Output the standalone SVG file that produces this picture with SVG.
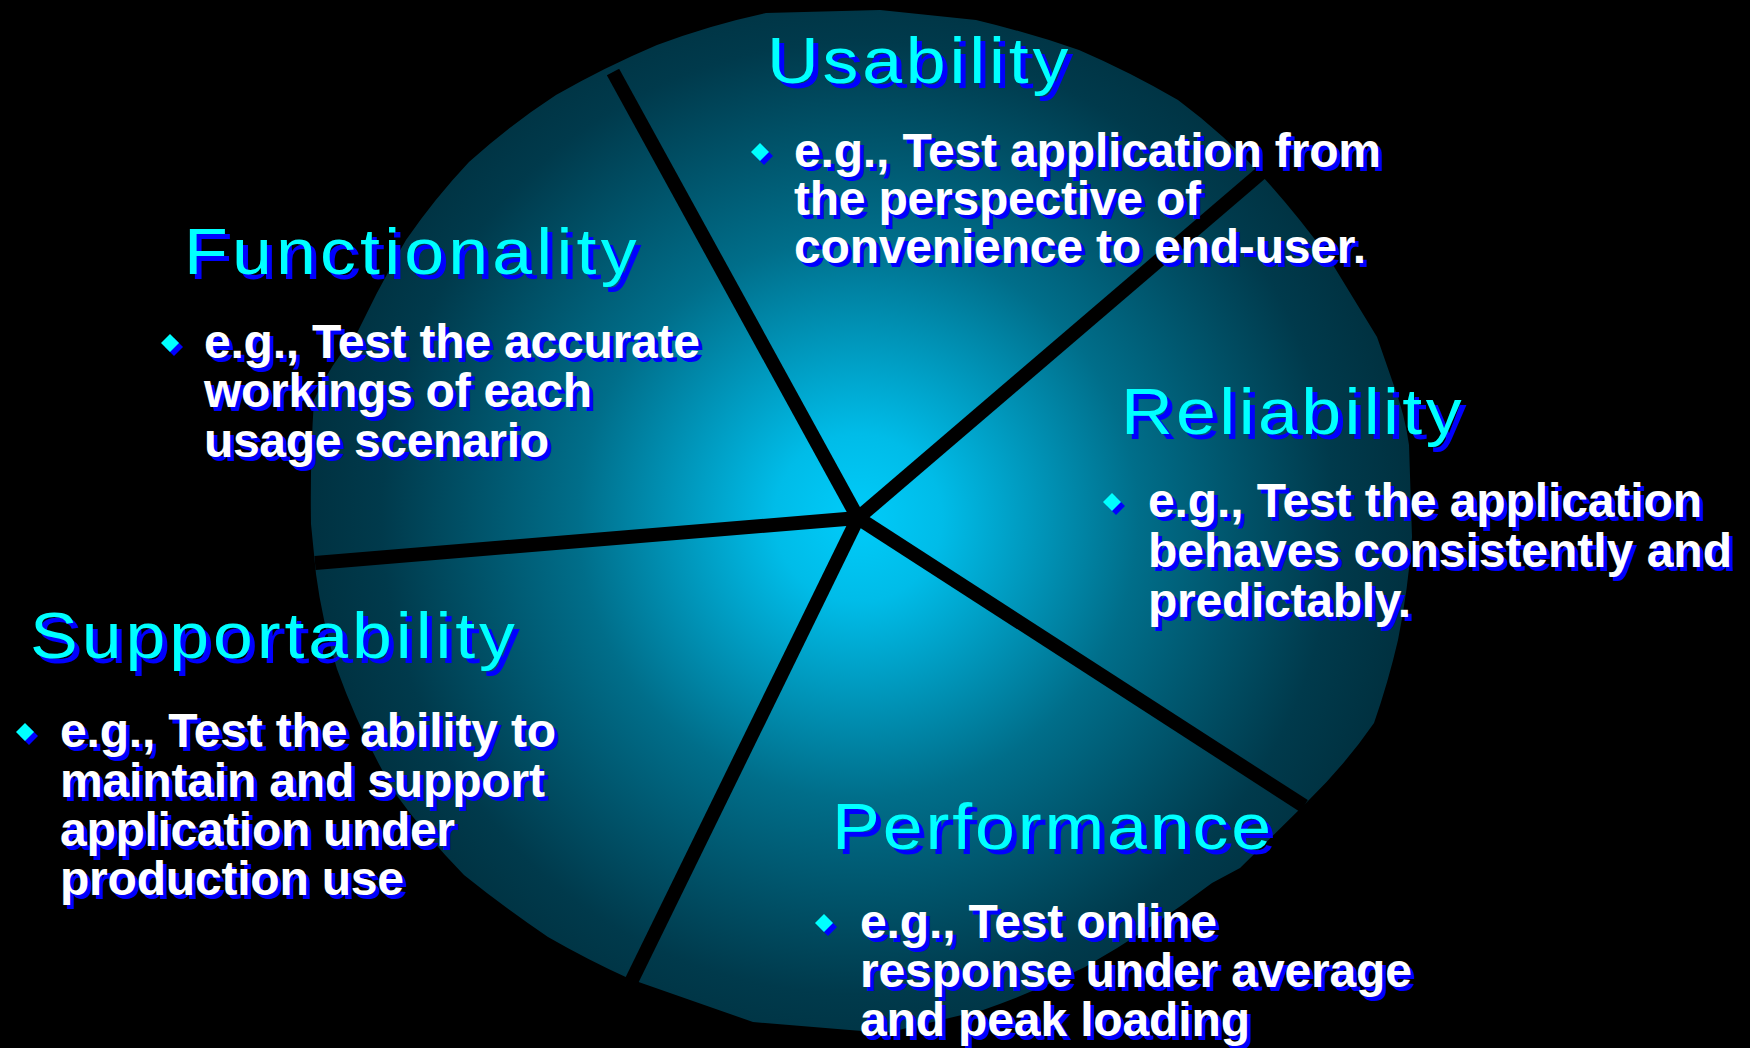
<svg xmlns="http://www.w3.org/2000/svg" width="1750" height="1048" viewBox="0 0 1750 1048">
<defs>
<radialGradient id="pieGrad" gradientUnits="userSpaceOnUse" cx="858" cy="518" r="560">
<stop offset="0" stop-color="#00CCFA"/>
<stop offset="0.15" stop-color="#00BCE8"/>
<stop offset="0.5" stop-color="#006E8A"/>
<stop offset="0.85" stop-color="#003A4C"/>
<stop offset="1" stop-color="#00303F"/>
</radialGradient>
<path id="dia" d="M0,-9 L9,0 L0,9 L-9,0 Z"/>
<style>
.title { font-family: "Liberation Sans", Arial, sans-serif; font-size: 64px; }
.body { font-family: "Liberation Sans", Arial, sans-serif; font-size: 48px; font-weight: bold; }
.cy { fill: #00FFFF; }
.wh { fill: #FFFFFF; }
.sh { fill: #0000FF; }
.spoke { stroke: #000000; stroke-width: 14; stroke-linecap: butt; fill: none; }
</style>
</defs>
<rect x="0" y="0" width="1750" height="1048" fill="#000000"/>

<g id="pie">
<path fill="url(#pieGrad)" d="M766,13 L880,10 L976,20 Q1030,33 1079,50 Q1130,72 1178,100 Q1225,135 1263,177 Q1300,218 1330,260 L1377,337 L1393,383 Q1405,415 1409,445 L1412,537 Q1408,590 1398,640 Q1388,683 1374,723 Q1345,765 1307,802 L1240,868 L1212,883 Q1150,930 1085,967 Q1035,992 983,1010 L886,1033 L753,1022 L630,979 Q588,960 548,937 Q505,908 464,875 Q425,835 395,793 Q360,733 337,669 Q322,620 316,574 L311,524 Q310,460 314,400 Q330,365 357,333 Q380,285 406,240 Q435,198 469,162 Q510,125 556,95 Q605,67 657,45 Q710,25 766,13 Z"/>
</g>

<g id="connectors">
<line class="spoke" x1="858" y1="518" x2="613" y2="72"/>
<line class="spoke" x1="858" y1="518" x2="1261" y2="173"/>
<line class="spoke" x1="858" y1="518" x2="1304" y2="806"/>
<line class="spoke" x1="858" y1="518" x2="631" y2="982"/>
<line class="spoke" x1="858" y1="518" x2="315" y2="563"/>
</g>

<g id="usability">
<text class="title sh" transform="translate(772,88) scale(1.12,1)" textLength="269" lengthAdjust="spacing">Usability</text>
<text class="title cy" transform="translate(767,83) scale(1.12,1)" textLength="269" lengthAdjust="spacing">Usability</text>
<use href="#dia" class="sh" x="764" y="156"/>
<use href="#dia" class="cy" x="760" y="152"/>
<text class="body sh" x="798" y="171" textLength="587" lengthAdjust="spacing">e.g., Test application from</text>
<text class="body wh" x="794" y="167" textLength="587" lengthAdjust="spacing">e.g., Test application from</text>
<text class="body sh" x="798" y="219" textLength="407" lengthAdjust="spacing">the perspective of</text>
<text class="body wh" x="794" y="215" textLength="407" lengthAdjust="spacing">the perspective of</text>
<text class="body sh" x="798" y="267" textLength="572" lengthAdjust="spacing">convenience to end-user.</text>
<text class="body wh" x="794" y="263" textLength="572" lengthAdjust="spacing">convenience to end-user.</text>
</g>

<g id="functionality">
<text class="title sh" transform="translate(189,279) scale(1.12,1)" textLength="404" lengthAdjust="spacing">Functionality</text>
<text class="title cy" transform="translate(184,274) scale(1.12,1)" textLength="404" lengthAdjust="spacing">Functionality</text>
<use href="#dia" class="sh" x="174" y="347"/>
<use href="#dia" class="cy" x="170" y="343"/>
<text class="body sh" x="208" y="362" textLength="496" lengthAdjust="spacing">e.g., Test the accurate</text>
<text class="body wh" x="204" y="358" textLength="496" lengthAdjust="spacing">e.g., Test the accurate</text>
<text class="body sh" x="208" y="411" textLength="388" lengthAdjust="spacing">workings of each</text>
<text class="body wh" x="204" y="407" textLength="388" lengthAdjust="spacing">workings of each</text>
<text class="body sh" x="208" y="461" textLength="345" lengthAdjust="spacing">usage scenario</text>
<text class="body wh" x="204" y="457" textLength="345" lengthAdjust="spacing">usage scenario</text>
</g>

<g id="reliability">
<text class="title sh" transform="translate(1126,439) scale(1.12,1)" textLength="304" lengthAdjust="spacing">Reliability</text>
<text class="title cy" transform="translate(1121,434) scale(1.12,1)" textLength="304" lengthAdjust="spacing">Reliability</text>
<use href="#dia" class="sh" x="1116" y="506"/>
<use href="#dia" class="cy" x="1112" y="502"/>
<text class="body sh" x="1152" y="521" textLength="554" lengthAdjust="spacing">e.g., Test the application</text>
<text class="body wh" x="1148" y="517" textLength="554" lengthAdjust="spacing">e.g., Test the application</text>
<text class="body sh" x="1152" y="571" textLength="584" lengthAdjust="spacing">behaves consistently and</text>
<text class="body wh" x="1148" y="567" textLength="584" lengthAdjust="spacing">behaves consistently and</text>
<text class="body sh" x="1152" y="621" textLength="263" lengthAdjust="spacing">predictably.</text>
<text class="body wh" x="1148" y="617" textLength="263" lengthAdjust="spacing">predictably.</text>
</g>

<g id="supportability">
<text class="title sh" transform="translate(35,663) scale(1.12,1)" textLength="433" lengthAdjust="spacing">Supportability</text>
<text class="title cy" transform="translate(30,658) scale(1.12,1)" textLength="433" lengthAdjust="spacing">Supportability</text>
<use href="#dia" class="sh" x="29" y="736"/>
<use href="#dia" class="cy" x="25" y="732"/>
<text class="body sh" x="64" y="751" textLength="496" lengthAdjust="spacing">e.g., Test the ability to</text>
<text class="body wh" x="60" y="747" textLength="496" lengthAdjust="spacing">e.g., Test the ability to</text>
<text class="body sh" x="64" y="801" textLength="485" lengthAdjust="spacing">maintain and support</text>
<text class="body wh" x="60" y="797" textLength="485" lengthAdjust="spacing">maintain and support</text>
<text class="body sh" x="64" y="850" textLength="395" lengthAdjust="spacing">application under</text>
<text class="body wh" x="60" y="846" textLength="395" lengthAdjust="spacing">application under</text>
<text class="body sh" x="64" y="899" textLength="344" lengthAdjust="spacing">production use</text>
<text class="body wh" x="60" y="895" textLength="344" lengthAdjust="spacing">production use</text>
</g>

<g id="performance">
<text class="title sh" transform="translate(837,854) scale(1.12,1)" textLength="392" lengthAdjust="spacing">Performance</text>
<text class="title cy" transform="translate(832,849) scale(1.12,1)" textLength="392" lengthAdjust="spacing">Performance</text>
<use href="#dia" class="sh" x="828" y="927"/>
<use href="#dia" class="cy" x="824" y="923"/>
<text class="body sh" x="864" y="942" textLength="357" lengthAdjust="spacing">e.g., Test online</text>
<text class="body wh" x="860" y="938" textLength="357" lengthAdjust="spacing">e.g., Test online</text>
<text class="body sh" x="864" y="991" textLength="552" lengthAdjust="spacing">response under average</text>
<text class="body wh" x="860" y="987" textLength="552" lengthAdjust="spacing">response under average</text>
<text class="body sh" x="864" y="1040" textLength="390" lengthAdjust="spacing">and peak loading</text>
<text class="body wh" x="860" y="1036" textLength="390" lengthAdjust="spacing">and peak loading</text>
</g>
</svg>
